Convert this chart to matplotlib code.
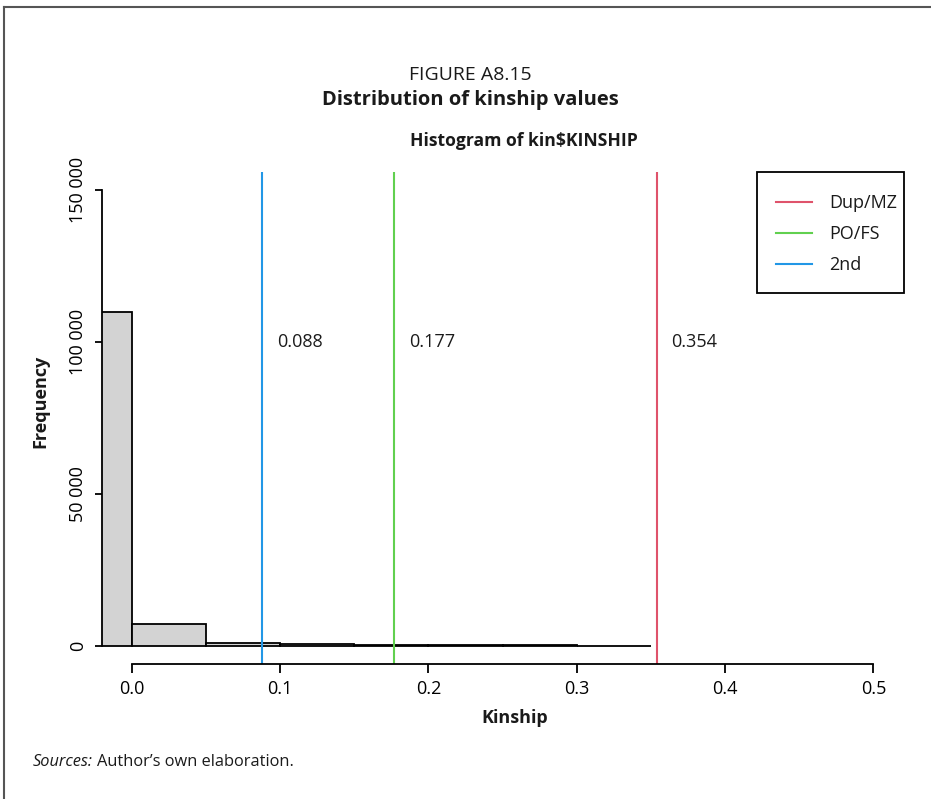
import numpy as np
import matplotlib.pyplot as plt
from matplotlib.patches import Rectangle

plt.rcParams['font.family'] = ['Open Sans', 'DejaVu Sans']
plt.rcParams['text.color'] = '#1a1a1a'

# Histogram of kinship coefficients (bin edges and counts)
bin_edges = [-0.05, 0.0, 0.05, 0.10, 0.15, 0.20, 0.25, 0.30, 0.35]
counts = [110000, 7300, 900, 450, 200, 150, 120, 80]

# Relationship thresholds
thresholds = [0.354, 0.177, 0.088]
threshold_names = ["Dup/MZ", "PO/FS", "2nd"]
threshold_colors = ["#DF536B", "#61D04F", "#2297E6"]

xticks = [0.0, 0.1, 0.2, 0.3, 0.4, 0.5]
yticks = [0, 50000, 100000, 150000]
ytick_labels = ["0", "50 000", "100 000", "150 000"]

fig = plt.figure(figsize=(9.31, 7.99), dpi=100)
W, H = 931, 799


def fx(px):
    return px / W


def fy(py):
    return 1 - py / H


ax = fig.add_axes([fx(102), fy(664), (903 - 102) / W, (664 - 172) / H])

edges = np.array(bin_edges)
ax.bar(edges[:-1], counts, width=np.diff(edges), align='edge',
       color='#D3D3D3', edgecolor='black', linewidth=1.3)

for x, name, c in zip(thresholds, threshold_names, threshold_colors):
    ax.axvline(x, color=c, linewidth=1.5, label=name)
    ax.text(x + 0.01, 100000, f"{x:.3f}", ha='left', va='center', fontsize=13)

ax.set_xlim(-0.02, 0.52)
ax.set_ylim(-6000, 156000)

for s in ['top', 'right']:
    ax.spines[s].set_visible(False)
ax.spines['left'].set_bounds(0, 150000)
ax.spines['bottom'].set_bounds(0, 0.5)
for s in ['left', 'bottom']:
    ax.spines[s].set_linewidth(1.3)

ax.set_xticks(xticks)
ax.set_xticklabels([f"{t:.1f}" for t in xticks], fontsize=13)
ax.set_yticks(yticks)
ax.set_yticklabels(ytick_labels, fontsize=13, rotation=90, va='center')
ax.tick_params(axis='x', length=6.5, width=1.3, pad=5)
ax.tick_params(axis='y', length=5, width=1.3, pad=6)

# Legend entries without frame; the box is drawn separately
ax.legend(loc='upper left', bbox_to_anchor=(fx(776), fy(194)),
          bbox_transform=fig.transFigure, frameon=False, borderpad=0,
          borderaxespad=0, fontsize=13, handlelength=2.0,
          handletextpad=0.95, labelspacing=0.72)
fig.add_artist(Rectangle((fx(757), fy(293)), (904 - 757) / W, (293 - 172) / H,
                         transform=fig.transFigure, fill=False,
                         edgecolor='black', linewidth=1.3))

fig.text(fx(515), fy(718), "Kinship", ha='center', va='center',
         fontsize=13, fontweight='bold')
fig.text(fx(40), fy(401), "Frequency", ha='center', va='center',
         fontsize=13, fontweight='bold', rotation=90)
fig.text(fx(524), fy(141), "Histogram of kin$KINSHIP", ha='center',
         va='center', fontsize=12.6, fontweight='bold')
fig.text(fx(470), fy(75), "FIGURE A8.15", ha='center', va='center',
         fontsize=14)
fig.text(fx(470), fy(100), "Distribution of kinship values", ha='center',
         va='center', fontsize=14.5, fontweight='bold')

src = fig.text(fx(33), fy(762), "Sources:", ha='left', va='center',
               fontsize=11.8, fontstyle='italic')
fig.canvas.draw()
bb = src.get_window_extent()
fig.text((bb.x1 + 4) / W, fy(762), "Author\u2019s own elaboration.",
         ha='left', va='center', fontsize=11.8)

# Outer frame (top and left edges)
fig.add_artist(plt.Line2D([fx(4), 1], [fy(7), fy(7)], color='#555555',
                          linewidth=1.5))
fig.add_artist(plt.Line2D([fx(4), fx(4)], [0, fy(7)], color='#555555',
                          linewidth=1.5))

fig.savefig("out.png", dpi=100)
